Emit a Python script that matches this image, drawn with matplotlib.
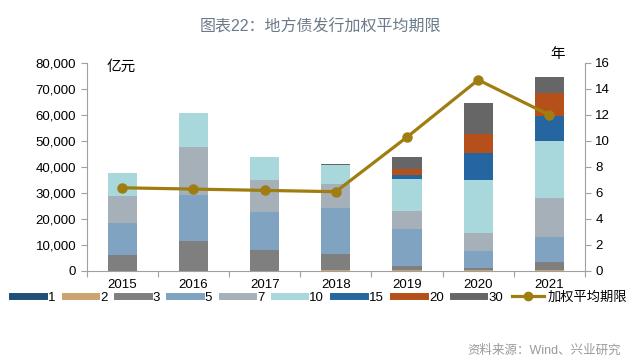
import matplotlib
matplotlib.use("Agg")
import matplotlib.pyplot as plt
from matplotlib.lines import Line2D
import numpy as np

plt.rcParams['font.family'] = ['Liberation Sans', 'Noto Sans CJK SC', 'DejaVu Sans']

years = ["2015", "2016", "2017", "2018", "2019", "2020", "2021"]
tenors = ["1", "2", "3", "5", "7", "10", "15", "20", "30"]

# issuance by tenor, 亿元
t1 = [0, 0, 0, 0, 0, 0, 0]
t2 = [0, 0, 0, 300, 300, 200, 500]
t3 = [6250, 11500, 7900, 6200, 1600, 800, 3100]
t5 = [12150, 17900, 14700, 17900, 14100, 6800, 9300]
t7 = [10300, 18200, 12300, 9200, 7000, 7000, 15300]
t10 = [9100, 13100, 8800, 7000, 12500, 20300, 21700]
t15 = [0, 0, 0, 100, 1500, 10200, 9900]
t20 = [0, 0, 0, 100, 2400, 7200, 8500]
t30 = [0, 0, 0, 400, 4400, 12000, 6500]
series = [t1, t2, t3, t5, t7, t10, t15, t20, t30]

# weighted average tenor, years
avg_tenor = [6.4, 6.3, 6.2, 6.1, 10.3, 14.7, 12.0]

colors = ["#1f4e79", "#c9a46e", "#7f7f7f", "#7fa3c0", "#a6b0b9",
          "#a8d8dc", "#2565a0", "#b5501a", "#666666"]
line_color = "#a07d10"
spine_color = "#a0a0a0"


def main():
    fig = plt.figure(figsize=(6.4, 3.62), dpi=100)
    ax = fig.add_axes([0.1355, 0.2514, 0.7785, 0.5746])
    x = np.arange(len(years))

    bottom = np.zeros(len(years))
    for vals, c in zip(series, colors):
        ax.bar(x, vals, width=0.41, bottom=bottom, color=c, linewidth=0)
        bottom += np.array(vals)

    ax.set_xlim(-0.5, len(years) - 0.5)
    ax.set_ylim(0, 80000)
    ax.set_yticks(np.arange(0, 80001, 10000))
    ax.set_yticklabels([f"{v:,}" for v in range(0, 80001, 10000)])
    ax.set_xticks(np.arange(-0.5, len(years), 1.0))
    ax.set_xticklabels([])
    ax.set_xticks(x, minor=True)
    ax.set_xticklabels(years, minor=True)
    ax.tick_params(axis='x', which='minor', length=0, labelsize=9.5, pad=6)
    ax.tick_params(axis='x', which='major', length=4, color=spine_color)
    ax.tick_params(axis='y', length=4, color=spine_color, labelsize=9.5)

    for s in ["top", "right"]:
        ax.spines[s].set_visible(False)
    for s in ["left", "bottom"]:
        ax.spines[s].set_color(spine_color)

    ax2 = ax.twinx()
    ax2.plot(x, avg_tenor, color=line_color, linewidth=2.3,
             marker='o', markersize=6.5)
    ax2.set_ylim(0, 16)
    ax2.set_yticks(np.arange(0, 17, 2))
    ax2.tick_params(axis='y', length=4, color=spine_color, labelsize=9.5)
    for s in ["top", "left", "bottom"]:
        ax2.spines[s].set_visible(False)
    ax2.spines["right"].set_color(spine_color)

    fig.text(0.167, 0.815, "亿元", fontsize=10.5, ha='left', va='center')
    fig.text(0.872, 0.85, "年", fontsize=10.5, ha='center', va='center')

    fig.text(0.5, 0.925, "图表22：地方债发行加权平均期限", fontsize=11.5,
             color="#6b7a8a", ha='center', va='center', fontweight='medium')
    fig.text(0.97, 0.03, "资料来源：Wind、兴业研究", fontsize=9,
             color="#9a9a9a", ha='right', va='center')

    handles = [Line2D([0], [0], color=c, linewidth=5) for c in colors]
    handles.append(Line2D([0], [0], color=line_color, linewidth=2.3,
                          marker='o', markersize=6))
    labels = tenors + ["加权平均期限"]
    fig.legend(handles, labels, loc='center', bbox_to_anchor=(0.5, 0.178),
               ncol=10, frameon=False, fontsize=9.5, handlelength=2.4,
               handletextpad=0.3, columnspacing=0.7, borderpad=0.2)

    fig.savefig("out.png", dpi=100)


if __name__ == "__main__":
    main()
